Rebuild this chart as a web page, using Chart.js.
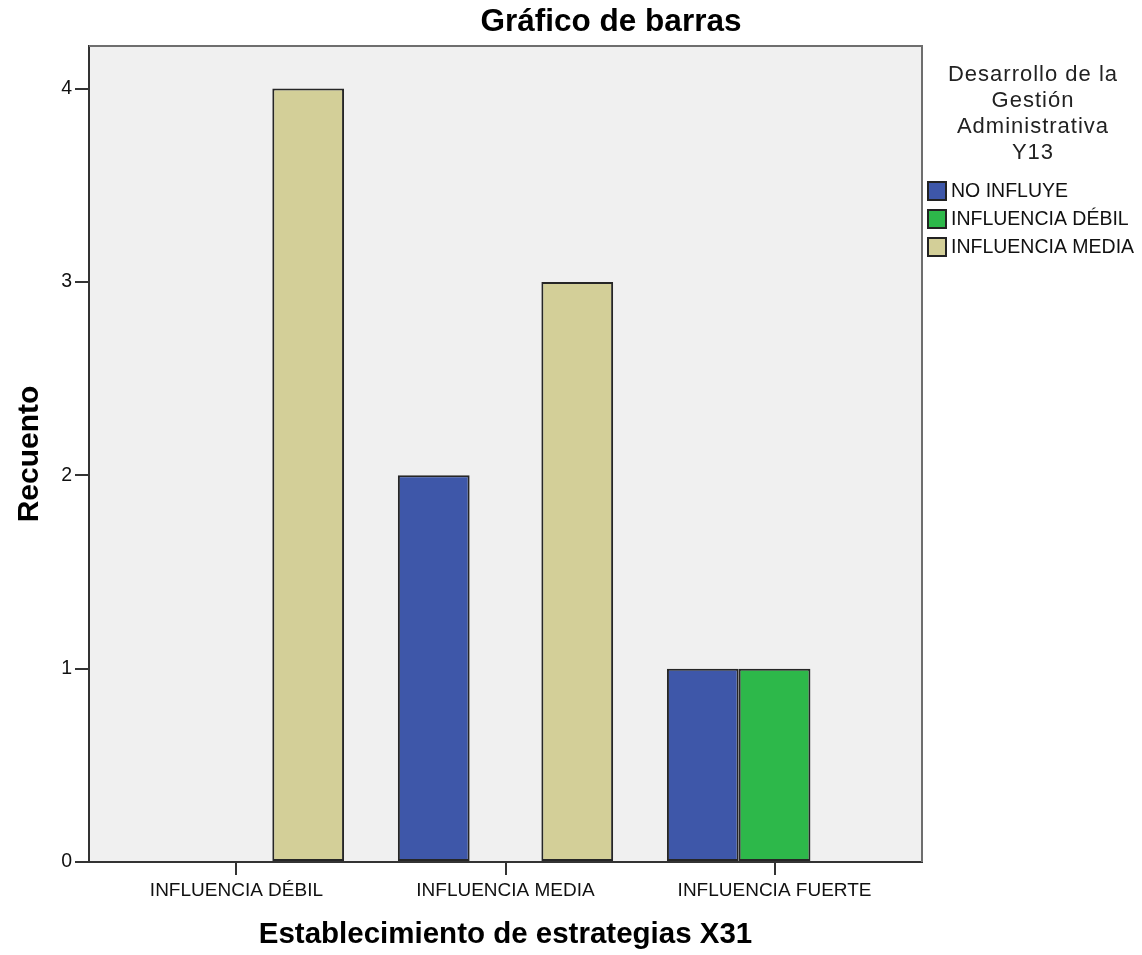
<!DOCTYPE html>
<html lang="es">
<head>
    <meta charset="utf-8">
    <title>Gráfico de barras</title>
    <script src="https://cdn.jsdelivr.net/npm/chart.js"></script>
    <style>
        html, body { margin: 0; padding: 0; background: #ffffff; }
    </style>
</head>
<body>
    <canvas id="myChart" width="1142" height="955"></canvas>
    <script>
        // Recuento por categoría de X31, separado por Y13
        const categories = ['INFLUENCIA DÉBIL', 'INFLUENCIA MEDIA', 'INFLUENCIA FUERTE']
        const no_influye = [null, 2, 1]
        const influencia_debil = [null, null, 1]
        const influencia_media = [4, 3, null]
        const y_ticks = [0, 1, 2, 3, 4]
        const legend_title = ['Desarrollo de la', 'Gestión', 'Administrativa', 'Y13']

        const FONT = "'Liberation Sans', Arial, sans-serif"

        function to_points(values) {
            return values.map((v, i) => ({ x: i, y: v }))
        }

        // gray plot box with lighter top/right frame
        const plot_frame = {
            id: 'plot_frame',
            beforeDraw(chart) {
                const { ctx, chartArea } = chart
                ctx.save()
                ctx.fillStyle = '#f0f0f0'
                ctx.fillRect(chartArea.left, chartArea.top, chartArea.right - chartArea.left, chartArea.bottom - chartArea.top)
                ctx.restore()
            },
            afterDraw(chart) {
                const { ctx, chartArea } = chart
                ctx.save()
                ctx.strokeStyle = '#6e6e6e'
                ctx.lineWidth = 2
                ctx.beginPath()
                ctx.moveTo(chartArea.left, chartArea.top)
                ctx.lineTo(chartArea.right, chartArea.top)
                ctx.lineTo(chartArea.right, chartArea.bottom)
                ctx.stroke()
                ctx.restore()
            }
        }

        // heading and legend on the right
        const side_texts = {
            id: 'side_texts',
            afterDraw(chart) {
                const { ctx } = chart
                ctx.save()
                ctx.fillStyle = '#000'
                ctx.textAlign = 'center'
                ctx.textBaseline = 'middle'
                ctx.font = 'bold 31.5px ' + FONT
                ctx.fillText('Gráfico de barras', 611, 22)

                ctx.fillStyle = '#222'
                ctx.font = '22px ' + FONT
                ctx.letterSpacing = '1px'
                legend_title.forEach((line, i) => {
                    ctx.fillText(line, 1033, 75 + i * 26)
                })
                ctx.letterSpacing = '0px'

                ctx.textAlign = 'left'
                ctx.font = '19.5px ' + FONT
                chart.data.datasets.forEach((ds, i) => {
                    const y = 182 + i * 28
                    ctx.fillStyle = ds.backgroundColor
                    ctx.fillRect(928, y, 18, 18)
                    ctx.strokeStyle = '#222'
                    ctx.lineWidth = 2
                    ctx.strokeRect(928, y, 18, 18)
                    ctx.fillStyle = '#111'
                    ctx.fillText(ds.label, 951, y + 10)
                })
                ctx.restore()
            }
        }

        const data_bars = {
            datasets: [
                {
                    label: 'NO INFLUYE',
                    data: to_points(no_influye),
                    backgroundColor: '#3e57a9',
                },
                {
                    label: 'INFLUENCIA DÉBIL',
                    data: to_points(influencia_debil),
                    backgroundColor: '#2db84a',
                },
                {
                    label: 'INFLUENCIA MEDIA',
                    data: to_points(influencia_media),
                    backgroundColor: '#d3cf98',
                }
            ]
        }

        const config = {
            type: 'bar',
            data: data_bars,
            options: {
                responsive: false,
                animation: false,
                layout: {
                    padding: { top: 46, right: 220, bottom: 0, left: 0 }
                },
                datasets: {
                    bar: {
                        categoryPercentage: 0.8,
                        barPercentage: 1.0,
                        borderColor: '#262626',
                        borderWidth: 2,
                        borderSkipped: false
                    }
                },
                scales: {
                    x: {
                        type: 'linear',
                        offset: false,
                        min: -0.548,
                        max: 2.548,
                        afterBuildTicks: (scale) => {
                            scale.ticks = categories.map((c, i) => ({ value: i }))
                        },
                        afterFit: (scale) => { scale.height = 93 },
                        ticks: {
                            callback: (value) => categories[value],
                            color: '#111',
                            font: { family: FONT, size: 19 },
                            padding: 4,
                            maxRotation: 0,
                            autoSkip: false
                        },
                        grid: {
                            offset: false,
                            drawOnChartArea: false,
                            tickLength: 13,
                            color: '#333',
                            lineWidth: 2
                        },
                        border: { color: '#333', width: 2 },
                        title: {
                            display: true,
                            text: 'Establecimiento de estrategias X31',
                            color: '#000',
                            font: { family: FONT, size: 29.5, weight: 'bold' },
                            padding: { top: 0, bottom: 2 }
                        }
                    },
                    y: {
                        min: 0,
                        max: 4.22,
                        afterBuildTicks: (scale) => {
                            scale.ticks = y_ticks.map(v => ({ value: v }))
                        },
                        afterFit: (scale) => { scale.width = 89 },
                        ticks: {
                            color: '#111',
                            font: { family: FONT, size: 19.5 },
                            padding: 3
                        },
                        grid: {
                            drawOnChartArea: false,
                            tickLength: 14,
                            color: '#333',
                            lineWidth: 2
                        },
                        border: { color: '#333', width: 2 },
                        title: {
                            display: true,
                            text: 'Recuento',
                            color: '#000',
                            font: { family: FONT, size: 30, weight: 'bold' },
                            padding: { top: 12, bottom: 0 }
                        }
                    }
                },
                plugins: {
                    legend: { display: false },
                    tooltip: { enabled: false }
                }
            },
            plugins: [plot_frame, side_texts]
        }

        const ctx = document.getElementById('myChart').getContext('2d')
        const chart_object = new Chart(ctx, config)
    </script>
</body>
</html>
